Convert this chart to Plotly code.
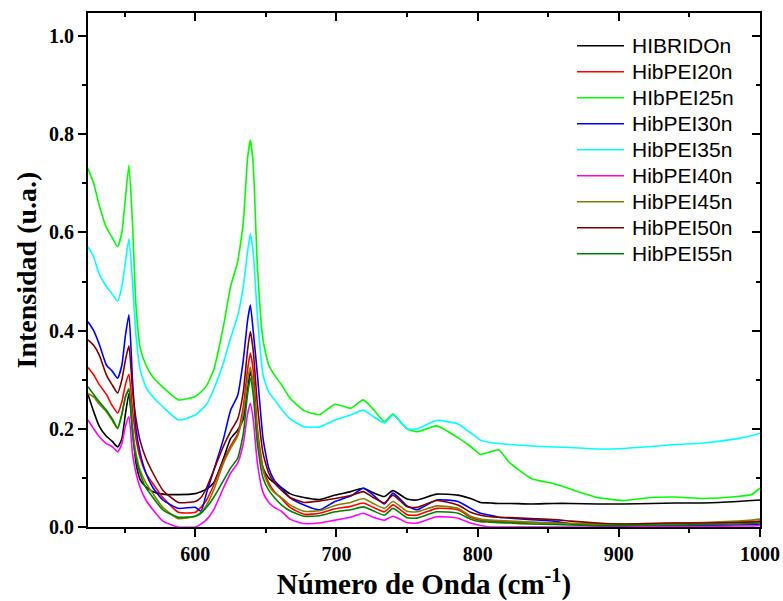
import plotly.graph_objects as go

# Wavenumber grid (cm-1)
wavenumber = [524, 528, 532, 537, 541, 545, 548, 550.5, 553, 555.5, 558, 561, 565, 570, 577, 588,
              600, 604, 608, 613, 620, 625, 630, 634, 637, 639, 641, 644, 648, 652, 656, 661,
              667, 677, 688, 699, 710, 719, 726, 734, 740, 750, 757, 771, 786, 795, 802, 809,
              815, 823, 838, 854, 866, 885, 903, 923, 940, 960, 984, 994, 1000]

hibrido_n = [0.270, 0.235, 0.205, 0.185, 0.175, 0.163, 0.180, 0.230, 0.272, 0.200, 0.130, 0.096, 0.082, 0.072, 0.067, 0.066,
             0.068, 0.072, 0.077, 0.090, 0.140, 0.180, 0.197, 0.220, 0.280, 0.316, 0.290, 0.180, 0.120, 0.100, 0.090, 0.080,
             0.068, 0.060, 0.056, 0.065, 0.072, 0.079, 0.070, 0.062, 0.074, 0.057, 0.055, 0.067, 0.065, 0.058, 0.050, 0.049,
             0.048, 0.048, 0.047, 0.048, 0.048, 0.047, 0.047, 0.048, 0.049, 0.049, 0.052, 0.054, 0.055]

hibpei20n = [0.325, 0.310, 0.290, 0.270, 0.248, 0.232, 0.255, 0.290, 0.311, 0.240, 0.180, 0.140, 0.110, 0.088, 0.060, 0.030,
             0.030, 0.040, 0.055, 0.085, 0.135, 0.165, 0.190, 0.245, 0.320, 0.354, 0.320, 0.200, 0.120, 0.090, 0.072, 0.058,
             0.040, 0.026, 0.028, 0.037, 0.042, 0.049, 0.040, 0.031, 0.045, 0.025, 0.024, 0.038, 0.035, 0.020, 0.014, 0.012,
             0.011, 0.010, 0.009, 0.008, 0.007, 0.006, 0.005, 0.006, 0.007, 0.008, 0.010, 0.011, 0.012]

hibpei25n = [0.730, 0.700, 0.655, 0.610, 0.590, 0.571, 0.600, 0.670, 0.737, 0.620, 0.450, 0.365, 0.330, 0.305, 0.285, 0.259,
             0.266, 0.275, 0.288, 0.320, 0.410, 0.490, 0.540, 0.620, 0.750, 0.788, 0.740, 0.530, 0.380, 0.330, 0.310, 0.290,
             0.263, 0.237, 0.229, 0.250, 0.242, 0.259, 0.240, 0.215, 0.230, 0.200, 0.194, 0.206, 0.182, 0.164, 0.148, 0.153,
             0.157, 0.130, 0.099, 0.088, 0.077, 0.060, 0.054, 0.060, 0.061, 0.058, 0.062, 0.066, 0.079]

hibpei30n = [0.418, 0.400, 0.372, 0.330, 0.318, 0.303, 0.330, 0.390, 0.432, 0.300, 0.200, 0.150, 0.110, 0.080, 0.055, 0.038,
             0.040, 0.032, 0.070, 0.115, 0.180, 0.238, 0.268, 0.340, 0.420, 0.452, 0.400, 0.310, 0.180, 0.120, 0.095, 0.080,
             0.060, 0.045, 0.035, 0.052, 0.063, 0.079, 0.065, 0.047, 0.069, 0.043, 0.035, 0.055, 0.052, 0.038, 0.028, 0.024,
             0.020, 0.018, 0.015, 0.012, 0.006, 0.002, 0.001, 0.002, 0.003, 0.003, 0.004, 0.005, 0.006]

hibpei35n = [0.571, 0.550, 0.515, 0.490, 0.475, 0.460, 0.490, 0.540, 0.587, 0.500, 0.390, 0.320, 0.285, 0.265, 0.245, 0.218,
             0.228, 0.238, 0.250, 0.280, 0.335, 0.385, 0.430, 0.490, 0.560, 0.597, 0.560, 0.430, 0.310, 0.275, 0.260, 0.240,
             0.221, 0.204, 0.204, 0.218, 0.228, 0.238, 0.225, 0.212, 0.228, 0.200, 0.200, 0.217, 0.210, 0.192, 0.177, 0.172,
             0.170, 0.168, 0.165, 0.163, 0.162, 0.159, 0.160, 0.164, 0.168, 0.171, 0.180, 0.186, 0.191]

hibpei40n = [0.218, 0.200, 0.184, 0.170, 0.164, 0.153, 0.170, 0.205, 0.225, 0.150, 0.110, 0.080, 0.055, 0.035, 0.012, 0.000,
             0.000, 0.006, 0.015, 0.035, 0.080, 0.110, 0.130, 0.170, 0.230, 0.252, 0.220, 0.130, 0.070, 0.050, 0.040, 0.032,
             0.016, 0.007, 0.008, 0.014, 0.020, 0.028, 0.020, 0.014, 0.022, 0.009, 0.008, 0.021, 0.018, 0.008, 0.003, 0.000,
             0.000, 0.000, 0.000, 0.000, 0.000, 0.000, 0.000, 0.001, 0.001, 0.001, 0.002, 0.002, 0.003]

hibpei45n = [0.272, 0.265, 0.250, 0.235, 0.218, 0.200, 0.230, 0.265, 0.282, 0.200, 0.150, 0.115, 0.090, 0.068, 0.040, 0.017,
             0.022, 0.030, 0.045, 0.075, 0.130, 0.160, 0.185, 0.232, 0.300, 0.326, 0.290, 0.190, 0.115, 0.085, 0.070, 0.060,
             0.045, 0.032, 0.033, 0.044, 0.050, 0.058, 0.048, 0.038, 0.052, 0.032, 0.031, 0.043, 0.038, 0.022, 0.016, 0.014,
             0.013, 0.012, 0.010, 0.008, 0.007, 0.006, 0.006, 0.007, 0.008, 0.009, 0.012, 0.014, 0.016]

hibpei50n = [0.381, 0.370, 0.350, 0.310, 0.290, 0.273, 0.300, 0.340, 0.369, 0.280, 0.220, 0.175, 0.140, 0.110, 0.075, 0.050,
             0.052, 0.060, 0.080, 0.115, 0.165, 0.195, 0.220, 0.275, 0.360, 0.398, 0.360, 0.250, 0.150, 0.110, 0.090, 0.075,
             0.060, 0.050, 0.053, 0.058, 0.064, 0.072, 0.060, 0.049, 0.065, 0.041, 0.040, 0.054, 0.045, 0.030, 0.024, 0.021,
             0.020, 0.019, 0.017, 0.015, 0.012, 0.008, 0.006, 0.007, 0.008, 0.008, 0.009, 0.010, 0.011]

hibpei55n = [0.286, 0.270, 0.255, 0.238, 0.221, 0.202, 0.230, 0.265, 0.279, 0.190, 0.140, 0.108, 0.080, 0.060, 0.035, 0.020,
             0.022, 0.028, 0.040, 0.060, 0.095, 0.120, 0.140, 0.190, 0.270, 0.303, 0.270, 0.170, 0.100, 0.075, 0.060, 0.045,
             0.033, 0.022, 0.023, 0.031, 0.035, 0.041, 0.033, 0.024, 0.038, 0.019, 0.018, 0.031, 0.028, 0.016, 0.011, 0.010,
             0.009, 0.008, 0.006, 0.005, 0.004, 0.003, 0.003, 0.004, 0.004, 0.005, 0.006, 0.007, 0.008]

series_names = ["HIBRIDOn", "HibPEI20n", "HIbPEI25n", "HibPEI30n", "HibPEI35n",
                "HibPEI40n", "HibPEI45n", "HibPEI50n", "HibPEI55n"]
series_values = [hibrido_n, hibpei20n, hibpei25n, hibpei30n, hibpei35n,
                 hibpei40n, hibpei45n, hibpei50n, hibpei55n]
series_colors = ["#000000", "#FF0000", "#00FF00", "#0000FF", "#00FFFF",
                 "#FF00FF", "#808000", "#800000", "#008000"]

X_RANGE = [524, 1000]
Y_RANGE = [0, 1.047]

W, H = 783, 601
ML, MR, MT, MB = 88, 23, 13, 74
PW, PH = W - ML - MR, H - MT - MB

fig = go.Figure()
for name, vals, col in zip(series_names, series_values, series_colors):
    fig.add_trace(go.Scatter(x=wavenumber, y=vals, mode="lines", name=name,
                             line=dict(color=col, width=1.6, shape="spline", smoothing=0.5),
                             showlegend=False))

tick_font = dict(family="Liberation Serif", size=20, color="black")
xtitle_font = dict(family="Liberation Serif", size=29, color="black")
ytitle_font = dict(family="Liberation Serif", size=28, color="black")

fig.update_layout(
    width=W, height=H,
    margin=dict(l=ML, r=MR, t=MT, b=MB, autoexpand=False),
    paper_bgcolor="white", plot_bgcolor="white",
    xaxis=dict(
        range=X_RANGE, showgrid=False, zeroline=False, automargin=False,
        showline=True, linecolor="black", linewidth=2, mirror=True,
        ticks="outside", ticklen=8, tickwidth=2, tickcolor="black",
        dtick=100, tick0=0, tickfont=tick_font,
        minor=dict(ticks="outside", ticklen=4, tickwidth=2, tickcolor="black", dtick=50, tick0=0),
        title=dict(text="<b>Número de Onda (cm<sup>-1</sup>)</b>", font=xtitle_font, standoff=5),
        tickprefix="<b>", ticksuffix="</b>",
    ),
    yaxis=dict(
        range=Y_RANGE, showgrid=False, zeroline=False, automargin=False,
        showline=True, linecolor="black", linewidth=2, mirror=True,
        ticks="outside", ticklen=8, tickwidth=2, tickcolor="black",
        dtick=0.2, tick0=0, tickformat=".1f", tickfont=tick_font,
        minor=dict(ticks="outside", ticklen=4, tickwidth=2, tickcolor="black", dtick=0.1, tick0=0),
        title=dict(text="<b>Intensidad (u.a.)</b>", font=ytitle_font, standoff=4),
        tickprefix="<b>", ticksuffix="</b>",
    ),
    # mirrored axes carrying the inward ticks on top and right
    xaxis2=dict(
        range=X_RANGE, overlaying="x", side="top", showgrid=False, zeroline=False,
        showline=False, showticklabels=False, automargin=False,
        ticks="inside", ticklen=8, tickwidth=2, tickcolor="black", dtick=100, tick0=0,
        minor=dict(ticks="inside", ticklen=4, tickwidth=2, tickcolor="black", dtick=50, tick0=0),
    ),
    yaxis2=dict(
        range=Y_RANGE, overlaying="y", side="right", showgrid=False, zeroline=False,
        showline=False, showticklabels=False, automargin=False,
        ticks="inside", ticklen=8, tickwidth=2, tickcolor="black", dtick=0.2, tick0=0,
        minor=dict(ticks="inside", ticklen=4, tickwidth=2, tickcolor="black", dtick=0.1, tick0=0),
    ),
)

# anchor trace for the mirrored axes
fig.add_trace(go.Scatter(x=X_RANGE, y=Y_RANGE, xaxis="x2", yaxis="y2", mode="lines",
                         line=dict(width=0), hoverinfo="skip", showlegend=False, opacity=0))

# legend: sample line plus label for each series
LEG_LINE_X0, LEG_LINE_X1, LEG_TEXT_X = 577, 624, 630
LEG_Y0, LEG_DY = 45.7, 26
for i, (name, col) in enumerate(zip(series_names, series_colors)):
    py = LEG_Y0 + LEG_DY * i
    yp = (H - MB - py) / PH
    fig.add_shape(type="line", xref="paper", yref="paper",
                  x0=(LEG_LINE_X0 - ML) / PW, x1=(LEG_LINE_X1 - ML) / PW, y0=yp, y1=yp,
                  line=dict(color=col, width=1.6))
    fig.add_annotation(text=name, xref="paper", yref="paper",
                       x=(LEG_TEXT_X - ML) / PW, y=yp, xanchor="left", yanchor="middle",
                       showarrow=False, font=dict(family="Liberation Sans", size=21, color="black"))

fig.write_html("out.html")
